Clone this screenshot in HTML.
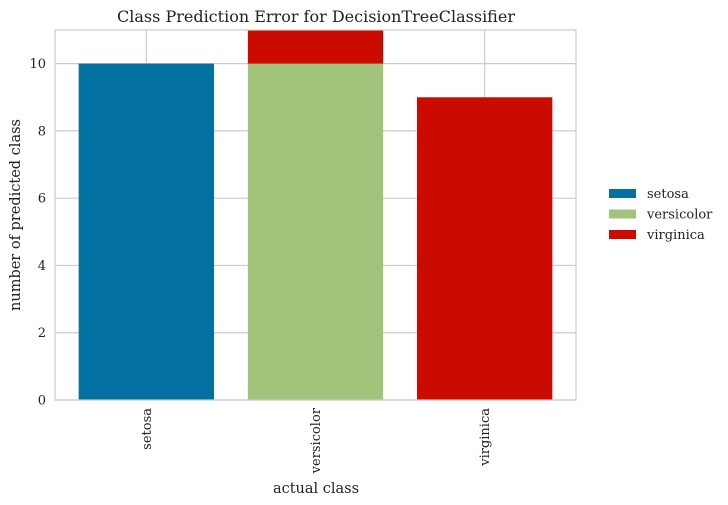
<!DOCTYPE html>
<html><head><meta charset="utf-8">
<style>
html,body{margin:0;padding:0;background:#fff;}
svg{display:block;font-family:"DejaVu Serif","Liberation Serif",serif;}
</style></head>
<body>
<svg id="chart" width="728" height="505" viewBox="0 0 728 505" xmlns="http://www.w3.org/2000/svg">
<text x="316" y="22" text-anchor="middle" font-size="16" fill="#222">Class Prediction Error for DecisionTreeClassifier</text>
<g id="grid"></g>
<g id="bars"></g>
<rect x="55" y="30" width="521" height="370" fill="none" stroke="#ccc" stroke-width="1.2"/>
<g id="ticks"></g>
<text x="316" y="493" text-anchor="middle" font-size="14.5" fill="#222">actual class</text>
<text transform="translate(20,215) rotate(-90)" text-anchor="middle" font-size="14.5" fill="#222">number of predicted class</text>
<g id="legend"></g>
</svg>
<script>
const categories = ["setosa","versicolor","virginica"];
const seriesNames = ["setosa","versicolor","virginica"];
const seriesColors = ["#0271a0","#a1c47b","#cc0b00"];
const setosaValues = [10,0,0];
const versicolorValues = [0,10,0];
const virginicaValues = [0,1,9];
const yTicks = [0,2,4,6,8,10];
const series = [setosaValues, versicolorValues, virginicaValues];

const NS="http://www.w3.org/2000/svg";
const L=55,R=576,T=30,B=400,yMax=11,xMin=-0.54,xMax=2.54;
const xs=v=>L+(v-xMin)/(xMax-xMin)*(R-L);
const ys=v=>B-v/yMax*(B-T);
const bw=0.8*(R-L)/(xMax-xMin);
function mk(tag,attrs,parent){const e=document.createElementNS(NS,tag);for(const k in attrs)e.setAttribute(k,attrs[k]);parent.appendChild(e);return e;}
const grid=document.getElementById('grid'),bars=document.getElementById('bars'),ticks=document.getElementById('ticks'),legend=document.getElementById('legend');
yTicks.forEach(t=>{
  const y=ys(t);
  const g=mk('line',{x1:L,x2:R,y1:y,y2:y,stroke:'#ccc','stroke-width':1.2},grid);
  
  
  const tx=mk('text',{x:L-9,y:y+4.5,'text-anchor':'end','font-size':13,fill:'#222'},ticks);
  tx.textContent=t;
  
  
});
categories.forEach((c,i)=>{
  const x=xs(i);
  const g=mk('line',{x1:x,x2:x,y1:T,y2:B,stroke:'#ccc','stroke-width':1.2},grid);
  
  
  const tx=mk('text',{transform:`translate(${x+4.5},408) rotate(-90)`,'text-anchor':'end','font-size':13,fill:'#222'},ticks);
  tx.textContent=c;
  
  
  let base=0;
  series.forEach((s,j)=>{
    const v=s[i]; if(!v) return;
    const r=mk('rect',{x:x-bw/2,y:ys(base+v),width:bw,height:ys(base)-ys(base+v),fill:seriesColors[j]},bars);
    
    
    base+=v;
  });
});
seriesNames.forEach((n,j)=>{
  const y=189+j*20.5;
  const r=mk('rect',{x:609,y:y,width:27,height:9,fill:seriesColors[j]},legend);
  
  
  const t=mk('text',{x:647,y:y+9,'font-size':13,fill:'#222'},legend);
  t.textContent=n;
  
  
});
</script>
</body></html>
